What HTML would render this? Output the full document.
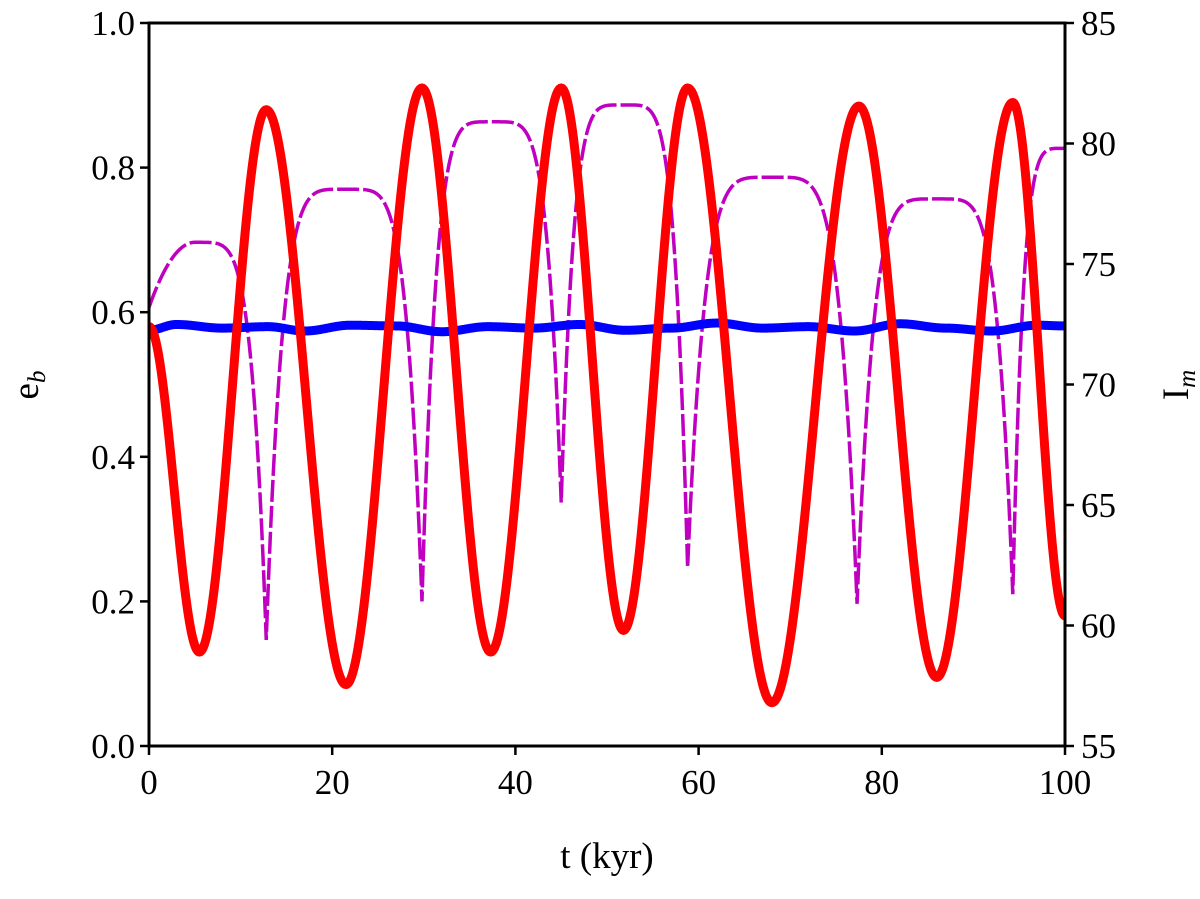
<!DOCTYPE html>
<html><head><meta charset="utf-8">
<style>
html,body{margin:0;padding:0;background:#fff;}
svg text{font-family:"Liberation Serif",serif;fill:#000;}
</style></head>
<body>
<svg id="chart" width="1200" height="894" viewBox="0 0 1200 894" xmlns="http://www.w3.org/2000/svg">
<g id="plot"></g>
<g id="axes"></g>
</svg>
<script>
// Red e_b extrema (t in kyr, value)
const redT = [0, 5.5, 12.8, 21.5, 29.8, 37.3, 45.0, 51.8, 58.8, 68.0, 77.5, 86.0, 94.3, 100];
const redV = [0.58, 0.13, 0.88, 0.085, 0.91, 0.13, 0.91, 0.16, 0.91, 0.06, 0.885, 0.095, 0.89, 0.18];
// Magenta I_m extrema (deg, right axis)
const magT = [0, 5.0, 12.8, 21.5, 29.8, 37.5, 45.0, 51.8, 58.8, 68.0, 77.3, 86.0, 94.3, 100];
const magV = [73.2, 75.9, 59.4, 78.1, 61.0, 80.9, 65.1, 81.6, 62.4, 78.6, 60.9, 77.7, 61.3, 79.8];
// Blue wiggle
const bluT = [0, 3, 8, 13, 17, 22, 27, 32, 37, 42, 47, 52, 57, 62, 67, 72, 77, 82, 87, 92, 97, 100];
const bluV = [0.575, 0.583, 0.578, 0.580, 0.574, 0.582, 0.581, 0.573, 0.580, 0.578, 0.583, 0.575, 0.578, 0.585, 0.578, 0.580, 0.574, 0.584, 0.578, 0.574, 0.582, 0.581];
const xTicks = [0, 20, 40, 60, 80, 100];
const yTicks = [0.0, 0.2, 0.4, 0.6, 0.8, 1.0];
const y2Ticks = [55, 60, 65, 70, 75, 80, 85];

const L=149,R=1065,T=23,B=746;
const X=t=>L+(t/100)*(R-L);
const Y=v=>B-v*(B-T);
const Y2=v=>B-(v-55)/30*(B-T);
const NS='http://www.w3.org/2000/svg';
const plot=document.getElementById('plot'), axes=document.getElementById('axes');
function mk(tag,attrs,parent){const e=document.createElementNS(NS,tag);for(const k in attrs)e.setAttribute(k,attrs[k]);parent.appendChild(e);return e;}

function curve(ts,vs,shape,ymap){
  let d='';
  for(let i=0;i<ts.length-1;i++){
    const n=80;
    for(let j=0;j<=n;j++){
      if(i>0&&j===0)continue;
      const u=j/n;
      const a=vs[i],b=vs[i+1];
      let f;
      if(shape==='cos') f=(1-Math.cos(Math.PI*u))/2;
      else {
        const first=(i===0);
        const pw=first?2:5;
        if(b>a) f=1-Math.pow(1-u,pw); else f=Math.pow(u,pw);
      }
      const t=ts[i]+(ts[i+1]-ts[i])*u, v=a+(b-a)*f;
      d+=(d?'L':'M')+X(t).toFixed(2)+','+ymap(v).toFixed(2);
    }
  }
  return d;
}
const cp=mk('clipPath',{id:'cp'},plot);mk('rect',{x:L,y:T,width:R-L,height:B-T},cp);

let p=mk('path',{d:curve(magT,magV,'m',Y2),fill:'none',stroke:'#c000c0','stroke-width':3.5,'stroke-dasharray':'22 4','clip-path':'url(#cp)'},plot);


p=mk('path',{d:curve(bluT,bluV,'cos',Y),fill:'none',stroke:'#0000ff','stroke-width':9,'clip-path':'url(#cp)'},plot);


p=mk('path',{d:curve(redT,redV,'cos',Y),fill:'none',stroke:'#ff0000','stroke-width':9,'clip-path':'url(#cp)'},plot);



let fr=mk('rect',{x:L,y:T,width:R-L,height:B-T,fill:'none',stroke:'#000','stroke-width':3},axes);


xTicks.forEach(v=>{
  mk('line',{x1:X(v),x2:X(v),y1:B,y2:B+9,stroke:'#000','stroke-width':2.5},axes);
  const t=mk('text',{x:X(v),y:B+48,'text-anchor':'middle','font-size':35},axes);t.textContent=v;
  
  
});
yTicks.forEach(v=>{
  mk('line',{x1:L-9,x2:L,y1:Y(v),y2:Y(v),stroke:'#000','stroke-width':2.5},axes);
  const t=mk('text',{x:L-14,y:Y(v)+12,'text-anchor':'end','font-size':35},axes);t.textContent=v.toFixed(1);
  
  
});
y2Ticks.forEach(v=>{
  mk('line',{x1:R,x2:R+9,y1:Y2(v),y2:Y2(v),stroke:'#000','stroke-width':2.5},axes);
  const t=mk('text',{x:R+16,y:Y2(v)+12,'text-anchor':'start','font-size':35},axes);t.textContent=v;
  
  
});
</script>
<svg style="position:absolute;left:0;top:0" width="1200" height="894">
<text x="607" y="868" text-anchor="middle" font-size="37" font-family="Liberation Serif, serif">t (kyr)</text>
<text transform="translate(38,385) rotate(-90)" text-anchor="middle" font-size="37" font-family="Liberation Serif, serif">e<tspan font-size="25" dy="7" font-style="italic">b</tspan></text>
<text transform="translate(1188,385) rotate(-90)" text-anchor="middle" font-size="37" font-family="Liberation Serif, serif">I<tspan font-size="25" dy="7" font-style="italic">m</tspan></text>
</svg>
</body></html>
